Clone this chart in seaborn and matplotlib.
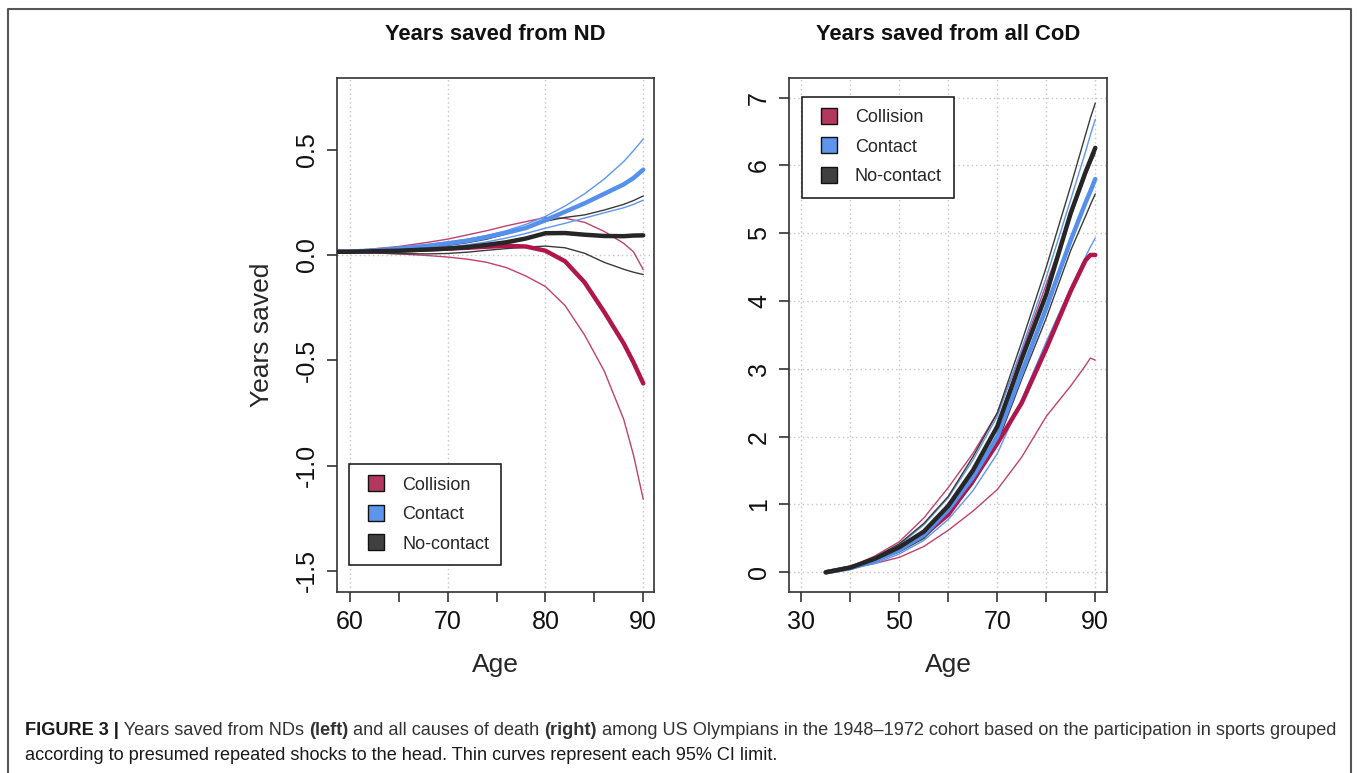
import numpy as np
import pandas as pd
import seaborn as sns
import matplotlib.pyplot as plt
from matplotlib.lines import Line2D

# --- data ---
groups = ["Collision", "Contact", "No-contact"]

# left panel: years saved from ND
nd_age = [58.8, 60, 62, 65, 68, 70, 72, 74, 76, 78, 80, 82, 84, 86, 88, 89, 90]
nd_col_mid = [0.015, 0.015, 0.017, 0.021, 0.026, 0.030, 0.034, 0.039, 0.043, 0.040, 0.020, -0.030, -0.130, -0.270, -0.420, -0.510, -0.610]
nd_col_lo = [0.015, 0.013, 0.010, 0.005, -0.003, -0.010, -0.020, -0.035, -0.060, -0.100, -0.150, -0.240, -0.380, -0.550, -0.780, -0.950, -1.160]
nd_col_hi = [0.017, 0.020, 0.027, 0.040, 0.060, 0.075, 0.095, 0.115, 0.138, 0.158, 0.178, 0.174, 0.155, 0.112, 0.055, 0.015, -0.070]
nd_con_mid = [0.015, 0.016, 0.020, 0.030, 0.043, 0.054, 0.067, 0.085, 0.105, 0.128, 0.165, 0.205, 0.245, 0.290, 0.335, 0.365, 0.405]
nd_con_lo = [0.014, 0.015, 0.017, 0.024, 0.032, 0.037, 0.048, 0.062, 0.080, 0.102, 0.127, 0.150, 0.175, 0.200, 0.224, 0.240, 0.260]
nd_con_hi = [0.016, 0.018, 0.024, 0.036, 0.050, 0.062, 0.075, 0.092, 0.115, 0.145, 0.183, 0.232, 0.290, 0.360, 0.443, 0.495, 0.550]
nd_noc_mid = [0.015, 0.015, 0.017, 0.020, 0.026, 0.030, 0.037, 0.048, 0.060, 0.078, 0.103, 0.104, 0.096, 0.090, 0.089, 0.092, 0.093]
nd_noc_lo = [0.015, 0.014, 0.010, 0.006, 0.005, 0.007, 0.013, 0.022, 0.030, 0.037, 0.042, 0.034, 0.008, -0.035, -0.068, -0.082, -0.093]
nd_noc_hi = [0.016, 0.017, 0.021, 0.028, 0.038, 0.045, 0.058, 0.075, 0.100, 0.127, 0.160, 0.178, 0.190, 0.213, 0.240, 0.258, 0.280]

# right panel: years saved from all causes of death
cod_age = [35, 40, 45, 50, 55, 60, 65, 70, 75, 80, 85, 88, 89, 90]
cod_col_mid = [0, 0.07, 0.18, 0.34, 0.55, 0.85, 1.35, 1.90, 2.50, 3.30, 4.15, 4.60, 4.68, 4.68]
cod_col_lo = [0, 0.06, 0.13, 0.22, 0.38, 0.62, 0.90, 1.22, 1.70, 2.30, 2.75, 3.05, 3.16, 3.13]
cod_col_hi = [0, 0.08, 0.24, 0.45, 0.80, 1.25, 1.75, 2.35, 3.25, 4.25, 5.25, 5.85, 6.02, 6.18]
cod_con_mid = [0, 0.06, 0.17, 0.33, 0.55, 0.92, 1.40, 2.00, 2.95, 3.90, 4.90, 5.45, 5.62, 5.80]
cod_con_lo = [0, 0.05, 0.13, 0.27, 0.47, 0.78, 1.20, 1.75, 2.55, 3.40, 4.20, 4.65, 4.80, 4.93]
cod_con_hi = [0, 0.07, 0.20, 0.40, 0.70, 1.10, 1.65, 2.30, 3.30, 4.35, 5.50, 6.20, 6.45, 6.68]
cod_noc_mid = [0, 0.07, 0.20, 0.37, 0.60, 0.98, 1.50, 2.15, 3.15, 4.10, 5.30, 5.90, 6.08, 6.26]
cod_noc_lo = [0, 0.06, 0.16, 0.30, 0.50, 0.85, 1.30, 1.90, 2.85, 3.75, 4.75, 5.25, 5.42, 5.58]
cod_noc_hi = [0, 0.08, 0.22, 0.42, 0.72, 1.12, 1.70, 2.35, 3.40, 4.50, 5.70, 6.45, 6.70, 6.92]

line_cols = {"Collision": "#B0164A", "Contact": "#5590EC", "No-contact": "#262626"}
thin_cols = {"Collision": "#C0416E", "Contact": "#5E96EE", "No-contact": "#3A3A3A"}
box_cols = {"Collision": "#B3385F", "Contact": "#5E94EC", "No-contact": "#404040"}

nd = {"Collision": (nd_col_mid, nd_col_lo, nd_col_hi),
      "Contact": (nd_con_mid, nd_con_lo, nd_con_hi),
      "No-contact": (nd_noc_mid, nd_noc_lo, nd_noc_hi)}
cod = {"Collision": (cod_col_mid, cod_col_lo, cod_col_hi),
       "Contact": (cod_con_mid, cod_con_lo, cod_con_hi),
       "No-contact": (cod_noc_mid, cod_noc_lo, cod_noc_hi)}

sns.set_theme(style="white")
plt.rcParams["font.family"] = ["Liberation Sans", "DejaVu Sans"]

fig = plt.figure(figsize=(13.58, 7.73), dpi=100)
ax1 = fig.add_axes([0.2482, 0.2342, 0.2334, 0.6649])
ax2 = fig.add_axes([0.5810, 0.2342, 0.2342, 0.6649])

GRID = dict(color="#c4c4c4", lw=1.0, ls=(0, (1, 2.2)), zorder=0)


def draw_panel(ax, age, series):
    # thin CI curves first, thick estimate on top
    for g in groups:
        mid, lo, hi = series[g]
        for vals in (lo, hi):
            sns.lineplot(x=age, y=vals, ax=ax, color=thin_cols[g], linewidth=1.0,
                         estimator=None, sort=False, zorder=2)
    for g in groups:
        mid, lo, hi = series[g]
        sns.lineplot(x=age, y=mid, ax=ax, color=line_cols[g], linewidth=3.2,
                     estimator=None, sort=False, zorder=3)


draw_panel(ax1, nd_age, nd)
draw_panel(ax2, cod_age, cod)

# left panel axes
ax1.set_xlim(58.7, 91.1)
ax1.set_ylim(-1.60, 0.84)
ax1.set_xticks([60, 65, 70, 75, 80, 85, 90])
ax1.set_xticklabels(["60", "", "70", "", "80", "", "90"])
ax1.set_yticks([-1.5, -1.0, -0.5, 0.0, 0.5])
ax1.set_yticklabels(["-1.5", "-1.0", "-0.5", "0.0", "0.5"], rotation=90, va="center")
for v in [60, 70, 80, 90]:
    ax1.axvline(v, **GRID)
ax1.axhline(0, **GRID)
ax1.set_ylabel("Years saved", fontsize=19)
ax1.yaxis.set_label_coords(-0.200, 0.5)

# right panel axes
ax2.set_xlim(27.5, 92.4)
ax2.set_ylim(-0.29, 7.29)
ax2.set_xticks([30, 40, 50, 60, 70, 80, 90])
ax2.set_xticklabels(["30", "", "50", "", "70", "", "90"])
ax2.set_yticks(range(0, 8))
ax2.set_yticklabels([str(v) for v in range(0, 8)], rotation=90, va="center")
ax2.grid(True, **GRID)
ax2.set_ylabel("")

for ax, title in [(ax1, "Years saved from ND"), (ax2, "Years saved from all CoD")]:
    ax.set_title(title, fontsize=15.8, fontweight="bold", pad=27, color="#111111")
    ax.set_xlabel("Age", fontsize=19, labelpad=14)
    ax.tick_params(axis="both", direction="out", length=7, width=1.1, color="#222222",
                   labelsize=18, pad=6, labelcolor="#111111", bottom=True, left=True)
    for s in ax.spines.values():
        s.set_color("#333333")
        s.set_linewidth(1.2)

# square legend keys drawn as markers, so there is room left of them
handles = [Line2D([], [], ls="none", marker="s", markersize=11.5, markerfacecolor=box_cols[g],
                  markeredgecolor="#111111", markeredgewidth=1.0, label=g) for g in groups]
leg_kw = dict(frameon=True, fancybox=False, fontsize=13, handlelength=1.6, handleheight=0.8,
              handletextpad=0.65, labelspacing=0.68, borderpad=0.68, borderaxespad=0,
              edgecolor="#111111", framealpha=1)
l1 = ax1.legend(handles=handles, loc="lower left", bbox_to_anchor=(0.038, 0.0525), **leg_kw)
l2 = ax2.legend(handles=handles, loc="upper left", bbox_to_anchor=(0.041, 0.963), **leg_kw)
for lg in (l1, l2):
    lg.get_frame().set_linewidth(1.1)
    lg.get_frame().set_boxstyle("square", pad=0)

# outer frame of the figure panel (open at the bottom)
W, H = 1358, 773
x0, x1, yt = 8 / W, 1351 / W, 1 - 9 / H
frame = Line2D([x0, x0, x1, x1], [0, yt, yt, 0], transform=fig.transFigure,
               color="#555555", lw=1.5)
fig.add_artist(frame)

# caption with bold and regular parts
cap = fig.add_axes([0, 0, 1, 1], zorder=-1)
cap.axis("off")
CAP_SIZE = 13.1


def rich_line(x, y, parts):
    t = cap.text(x, y, parts[0][0], fontsize=CAP_SIZE, fontweight=parts[0][1],
                 color="#1a1a1a", va="bottom", ha="left", transform=fig.transFigure)
    for s, w in parts[1:]:
        t = cap.annotate(s, xy=(1, 0), xycoords=t, va="bottom", ha="left",
                         fontsize=CAP_SIZE, fontweight=w, color="#333333")


rich_line(25 / W, 1 - 739 / H, [
    ("FIGURE 3 |", "bold"),
    (" Years saved from NDs ", "normal"),
    ("(left)", "bold"),
    (" and all causes of death ", "normal"),
    ("(right)", "bold"),
    (" among US Olympians in the 1948\u20131972 cohort based on the participation in sports grouped", "normal"),
])
rich_line(25 / W, 1 - 764 / H, [
    ("according to presumed repeated shocks to the head. Thin curves represent each 95% CI limit.", "normal"),
])

fig.savefig("out.png", dpi=100)
